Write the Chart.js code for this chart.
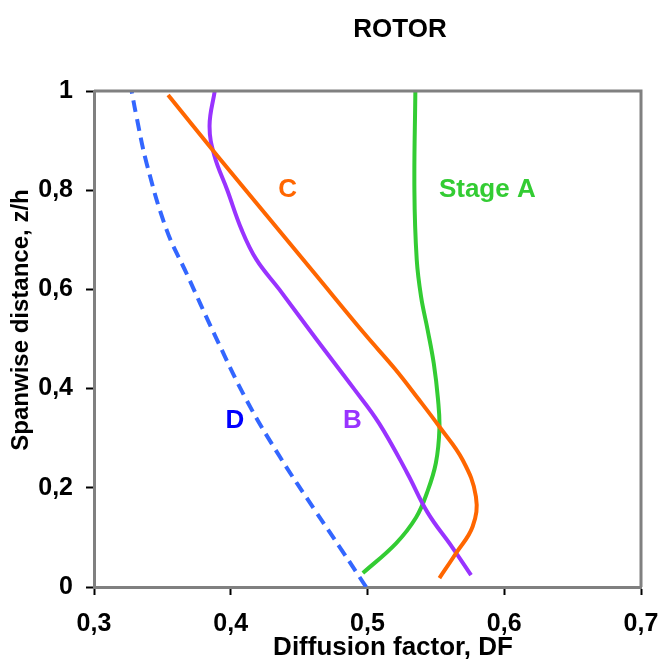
<!DOCTYPE html>
<html>
<head>
<meta charset="utf-8">
<script src="https://cdn.jsdelivr.net/npm/chart.js@4.4.0/dist/chart.umd.min.js"></script>
<style>
  html, body { margin: 0; padding: 0; background: #fff; }
  #wrap { width: 661px; height: 660px; }
</style>
</head>
<body>
<div id="wrap"><canvas id="rotorChart" width="661" height="660"></canvas></div>
<script>
// tick labels (comma decimals, as in the original)
var xTickLabels = ['0,3', '0,4', '0,5', '0,6', '0,7'];
var yTickLabels = ['0', '0,2', '0,4', '0,6', '0,8', '1'];

// Stage A (green) - z/h ascending
var stageA_z  = [0.028, 0.088, 0.140, 0.190, 0.250, 0.320, 0.380, 0.450, 0.518, 0.585, 0.660, 0.800, 1.0];
var stageA_df = [0.4966, 0.5209, 0.5355, 0.5435, 0.5500, 0.5526, 0.5515, 0.5485, 0.5440, 0.5392, 0.5360, 0.5343, 0.5350];

// B (purple)
var b_z  = [0.024, 0.080, 0.150, 0.230, 0.330, 0.400, 0.500, 0.600, 0.660, 0.720, 0.800, 0.870, 0.930, 1.0];
var b_df = [0.5757, 0.5620, 0.5440, 0.5290, 0.5085, 0.4900, 0.4625, 0.4355, 0.4188, 0.4080, 0.3975, 0.3880, 0.3845, 0.3883];

// C (orange)
var c_z  = [0.018, 0.068, 0.122, 0.182, 0.256, 0.323, 0.380, 0.440, 0.510, 0.630, 0.750, 0.870, 0.992];
var c_df = [0.5526, 0.5647, 0.5769, 0.5793, 0.5696, 0.5526, 0.5370, 0.5200, 0.4980, 0.4620, 0.4260, 0.3900, 0.3542];

// D (blue, dashed)
var d_z  = [0.0, 0.075, 0.155, 0.263, 0.377, 0.510, 0.632, 0.720, 0.854, 0.948, 1.0];
var d_df = [0.4990, 0.4810, 0.4615, 0.4358, 0.4115, 0.3880, 0.3677, 0.3531, 0.3385, 0.3311, 0.3275];

// in-plot labels: text, DF, z/h
var seriesLabels = [
  { text: 'C', df: 0.4416, z: 0.800, color: '#FF6600' },
  { text: 'Stage A', df: 0.5876, z: 0.800, color: '#33CC33' },
  { text: 'D', df: 0.4030, z: 0.335, color: '#0000FF' },
  { text: 'B', df: 0.4890, z: 0.335, color: '#9933FF' }
];

function toPoints(xs, ys) {
  return xs.map(function (x, i) { return { x: x, y: ys[i] }; });
}

var FONT = "'Liberation Sans', Arial, sans-serif";

var decorPlugin = {
  id: 'decor',
  afterDatasetsDraw: function (chart) {
    var ctx = chart.ctx, a = chart.chartArea;
    var xs = chart.scales.x, ys = chart.scales.y;
    ctx.save();
    // top and right frame
    ctx.strokeStyle = '#808080';
    ctx.lineWidth = 3;
    ctx.beginPath();
    ctx.moveTo(a.left, a.top);
    ctx.lineTo(a.right, a.top);
    ctx.lineTo(a.right, a.bottom);
    ctx.stroke();
    // series labels
    ctx.font = 'bold 26px ' + FONT;
    ctx.textAlign = 'center';
    ctx.textBaseline = 'middle';
    seriesLabels.forEach(function (l) {
      ctx.fillStyle = l.color;
      ctx.fillText(l.text, xs.getPixelForValue(l.df), ys.getPixelForValue(l.z));
    });
    // titles
    ctx.fillStyle = '#000';
    ctx.fillText('ROTOR', 400, 30);
    ctx.fillText('Diffusion factor, DF', 393, 648);
    ctx.font = 'bold 24px ' + FONT;
    ctx.translate(21, 320);
    ctx.rotate(-Math.PI / 2);
    ctx.fillText('Spanwise distance, z/h', 0, 0);
    ctx.restore();
  }
};

var line = { pointRadius: 0, borderWidth: 4, tension: 0.4, fill: false };

new Chart(document.getElementById('rotorChart').getContext('2d'), {
  type: 'line',
  data: {
    datasets: [
      Object.assign({ label: 'C', data: toPoints(c_df, c_z), borderColor: '#FF6600' }, line),
      Object.assign({ label: 'B', data: toPoints(b_df, b_z), borderColor: '#9933FF' }, line),
      Object.assign({ label: 'D', data: toPoints(d_df, d_z), borderColor: '#3366FF', borderDash: [12, 7] }, line),
      Object.assign({ label: 'Stage A', data: toPoints(stageA_df, stageA_z), borderColor: '#33CC33' }, line)
    ]
  },
  options: {
    responsive: false,
    animation: false,
    indexAxis: 'y',
    layout: { autoPadding: false, padding: { left: 0, top: 91, right: 20, bottom: 0 } },
    plugins: { legend: { display: false }, title: { display: false }, tooltip: { enabled: false } },
    scales: {
      x: {
        type: 'linear', min: 0.3, max: 0.7,
        afterFit: function (s) { s.height = 73; s.paddingLeft = 0; s.paddingRight = 0; },
        border: { color: '#808080', width: 3 },
        grid: { drawOnChartArea: false, drawTicks: true, tickLength: 8, tickColor: '#000', tickWidth: 2 },
        ticks: {
          stepSize: 0.1, padding: 14, color: '#000',
          font: { family: FONT, size: 25, weight: 'bold' },
          callback: function (v, i) { return xTickLabels[i]; }
        }
      },
      y: {
        type: 'linear', min: 0, max: 1,
        afterFit: function (s) { s.width = 94; s.paddingTop = 0; s.paddingBottom = 0; },
        border: { color: '#808080', width: 3 },
        grid: { drawOnChartArea: false, drawTicks: true, tickLength: 8, tickColor: '#000', tickWidth: 2 },
        ticks: {
          stepSize: 0.2, padding: 13, color: '#000',
          font: { family: FONT, size: 25, weight: 'bold' },
          callback: function (v, i) { return yTickLabels[i]; }
        }
      }
    }
  },
  plugins: [decorPlugin]
});
</script>
</body>
</html>
